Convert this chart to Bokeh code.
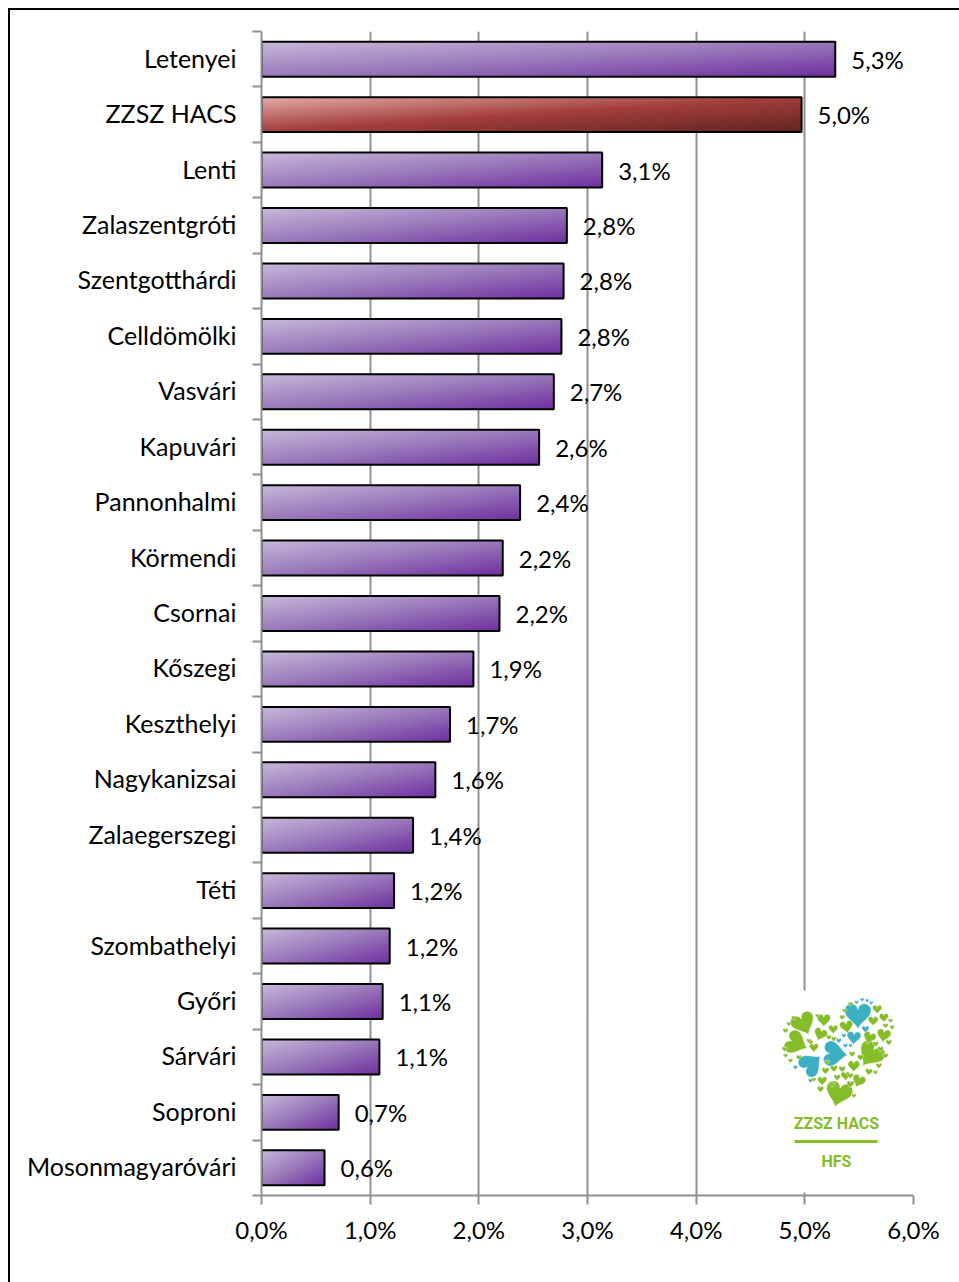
import math
import numpy as np
from bokeh.plotting import figure, ColumnDataSource
from bokeh.models import Range1d, FixedTicker
from bokeh.core.properties import value
from bokeh.embed import file_html
from bokeh.resources import INLINE

categories = ["Letenyei", "ZZSZ HACS", "Lenti", "Zalaszentgróti", "Szentgotthárdi", "Celldömölki",
              "Vasvári", "Kapuvári", "Pannonhalmi", "Körmendi", "Csornai", "Kőszegi", "Keszthelyi",
              "Nagykanizsai", "Zalaegerszegi", "Téti", "Szombathelyi", "Győri", "Sárvári", "Soproni",
              "Mosonmagyaróvári"]
values = [5.28, 4.97, 3.135, 2.81, 2.78, 2.76, 2.69, 2.555, 2.38, 2.22, 2.19, 1.95, 1.735, 1.60, 1.395,
          1.22, 1.18, 1.115, 1.085, 0.71, 0.58]
labels = ["5,3%", "5,0%", "3,1%", "2,8%", "2,8%", "2,8%", "2,7%", "2,6%", "2,4%", "2,2%", "2,2%", "1,9%",
          "1,7%", "1,6%", "1,4%", "1,2%", "1,2%", "1,1%", "1,1%", "0,7%", "0,6%"]
x_tick_values = [0, 1, 2, 3, 4, 5, 6]
x_tick_labels = ["0,0%", "1,0%", "2,0%", "3,0%", "4,0%", "5,0%", "6,0%"]

FONT = "Lato"
GRAY = "#909090"
GREEN = "#84bd27"
BLUE = "#3bb0c3"
PURPLE = [(0xC8, 0xBB, 0xDA), (0x9B, 0x7B, 0xBC), (0x70, 0x30, 0xA0)]
RED = [(0xE6, 0xAD, 0xAB), (0xA3, 0x3F, 0x3C), (0x63, 0x25, 0x23)]

W, H = 959, 1282
L, R, T, B = 261, 46, 31, 87
BAR = 0.63
n = len(categories)
ys = [n - i - 0.5 for i in range(n)]
label_ys = [y + 0.027 for y in ys]

p = figure(width=W, height=H, output_backend="svg", toolbar_location=None,
           x_range=Range1d(0, 6), y_range=Range1d(0, n),
           min_border_left=L, min_border_right=R, min_border_top=T, min_border_bottom=B,
           background_fill_color="white", border_fill_alpha=0)
p.outline_line_color = None
p.styles = {"background": "linear-gradient(#000,#000) 8px 8px / 951px 2px no-repeat, "
                          "linear-gradient(#000,#000) 8px 8px / 2px 1274px no-repeat, #fff"}

ax = p.xaxis[0]
ax.ticker = FixedTicker(ticks=x_tick_values)
ax.major_label_overrides = dict(zip(x_tick_values, x_tick_labels))
ax.major_label_text_font = FONT
ax.major_label_text_font_size = "24px"
ax.major_label_text_color = "#000000"
ax.major_tick_out = 9
ax.major_tick_in = 0
ax.minor_tick_line_color = None
ax.axis_line_color = GRAY
ax.axis_line_width = 2
ax.major_tick_line_color = GRAY
ax.major_tick_line_width = 2
ax.major_label_standoff = 10

ay = p.yaxis[0]
ay.ticker = FixedTicker(ticks=label_ys, minor_ticks=list(range(n + 1)))
ay.major_label_overrides = dict(zip(label_ys, categories))
ay.major_label_text_font = FONT
ay.major_label_text_font_size = "25px"
ay.major_label_text_color = "#000000"
ay.major_tick_out = 0
ay.major_tick_in = 0
ay.major_tick_line_color = None
ay.minor_tick_out = 9
ay.minor_tick_in = 0
ay.minor_tick_line_color = GRAY
ay.minor_tick_line_width = 2
ay.axis_line_color = GRAY
ay.axis_line_width = 2
ay.major_label_standoff = 16

p.ygrid.grid_line_color = None
p.xgrid.ticker = FixedTicker(ticks=x_tick_values)
p.xgrid.grid_line_color = GRAY
p.xgrid.grid_line_width = 2

PX_X = (W - L - R) / 6
PX_Y = (H - T - B) / n
def dx(px):
    return (px - L) / PX_X
def dy(py):
    return (H - B - py) / PX_Y

p.quad(left=[dx(770)], right=[dx(905)], top=[dy(990)], bottom=[dy(1192)],
       fill_color="white", line_color=None)

def lerp(stops, t):
    a, b, s = (stops[0], stops[1], t * 2) if t < 0.5 else (stops[1], stops[2], t * 2 - 1)
    return [a[k] + (b[k] - a[k]) * s for k in range(3)]

images = []
for v, c in zip(values, categories):
    stops = RED if c == "ZZSZ HACS" else PURPLE
    w = max(2, int(round(v * PX_X)))
    h = max(2, int(round(BAR * PX_Y)))
    img = np.zeros((h, w), dtype=np.uint32)
    view = img.view(dtype=np.uint8).reshape((h, w, 4))
    for r in range(h):
        vv = 1 - r / (h - 1)
        for col in range(w):
            uu = col / (w - 1)
            rgb = lerp(stops, (uu + vv) / 2)
            view[r, col] = [int(rgb[0]), int(rgb[1]), int(rgb[2]), 255]
    images.append(img)

src = ColumnDataSource(dict(y=ys, v=values, lab=labels, img=images,
                            x0=[0] * n, yb=[y - BAR / 2 for y in ys], dh=[BAR] * n))
p.image_rgba(image="img", x="x0", y="yb", dw="v", dh="dh", source=src)
p.hbar(y="y", left=0, right="v", height=BAR, source=src, fill_alpha=0,
       line_color="#000000", line_width=2)
p.text(x="v", y="y", text="lab", source=src, x_offset=16, y_offset=0,
       text_font=value(FONT), text_font_size=value("24px"), text_color="#000000",
       text_baseline="middle", text_align="left")

big = [(98, 112, 36, -25, GREEN), (75, 172, 36, -65, GREEN), (262, 86, 40, 0, BLUE),
       (190, 205, 38, -85, BLUE), (120, 237, 36, -130, BLUE), (302, 205, 40, 35, GREEN),
       (205, 322, 40, 15, GREEN)]
small = [(160, 102, 20, 0, GREEN), (150, 145, 20, 20, GREEN), (188, 130, 14, 0, GREEN),
         (228, 122, 20, -10, GREEN), (320, 70, 14, 0, GREEN), (340, 95, 14, 0, GREEN),
         (308, 105, 15, 0, GREEN), (340, 148, 21, 10, GREEN), (297, 155, 19, 20, GREEN),
         (250, 155, 21, 5, BLUE), (285, 130, 11, 0, BLUE), (130, 185, 14, 0, GREEN),
         (250, 240, 18, 0, GREEN), (265, 285, 20, 20, GREEN), (155, 285, 14, 0, GREEN),
         (225, 270, 14, 0, GREEN), (190, 248, 11, 0, GREEN), (215, 250, 10, 0, GREEN),
         (165, 255, 11, 0, GREEN), (295, 258, 11, 10, GREEN), (325, 240, 9, 0, GREEN),
         (150, 310, 10, 0, GREEN), (240, 295, 11, 0, GREEN), (200, 275, 10, 0, GREEN),
         (45, 135, 8, 0, GREEN), (55, 115, 7, 0, GREEN), (70, 97, 7, 0, GREEN), (42, 190, 8, 0, GREEN),
         (45, 210, 7, 0, GREEN), (60, 225, 7, 0, GREEN), (85, 215, 8, 0, GREEN), (75, 245, 7, 0, BLUE),
         (120, 285, 7, 0, BLUE), (130, 282, 7, 0, GREEN), (120, 170, 8, 0, GREEN), (140, 90, 6, 0, GREEN),
         (205, 165, 8, 0, BLUE), (190, 160, 8, 0, GREEN), (225, 180, 7, 0, BLUE), (240, 180, 6, 0, BLUE),
         (220, 150, 7, 0, BLUE), (215, 95, 8, 0, GREEN), (222, 75, 7, 0, GREEN), (240, 55, 7, 0, GREEN),
         (258, 50, 6, 0, BLUE), (275, 42, 6, 0, BLUE), (290, 45, 6, 0, BLUE), (302, 52, 6, 0, BLUE),
         (345, 120, 8, 0, GREEN), (360, 105, 7, 0, GREEN), (365, 125, 7, 0, GREEN), (355, 170, 9, 0, GREEN),
         (330, 190, 9, 0, GREEN), (345, 210, 8, 0, GREEN), (315, 175, 9, 0, GREEN), (270, 215, 10, 0, GREEN),
         (245, 205, 9, 0, GREEN), (175, 155, 8, 0, GREEN), (115, 165, 7, 0, GREEN), (185, 295, 9, 0, GREEN),
         (170, 230, 8, 0, GREEN), (240, 270, 9, 0, GREEN), (315, 260, 7, 0, GREEN), (250, 330, 7, 0, GREEN)]

ts = np.linspace(0, 2 * np.pi, 40)
hx = np.sin(ts) ** 3
hy = (13 * np.cos(ts) - 5 * np.cos(2 * ts) - 2 * np.cos(3 * ts) - np.cos(4 * ts)) / -15
xs_h, ys_h, cols = [], [], []
for zx, zy, r, ang, col in big + small:
    a = math.radians(ang)
    px = 770 + zx / 3 + (hx * math.cos(a) - hy * math.sin(a)) * r / 3
    py = 985 + zy / 3 + (hx * math.sin(a) + hy * math.cos(a)) * r / 3
    xs_h.append(dx(px).tolist())
    ys_h.append(dy(py).tolist())
    cols.append(col)
p.patches(xs=xs_h, ys=ys_h, fill_color=cols, line_color="white", line_width=0.5)

p.text(x=[dx(836)], y=[dy(1123)], text=["ZZSZ HACS"], text_font=value("Roboto"),
       text_font_size=value("16px"), text_font_style=value("bold"), text_color=GREEN,
       text_align="center", text_baseline="middle")
p.segment(x0=[dx(794)], x1=[dx(877)], y0=[dy(1141)], y1=[dy(1141)], line_color=GREEN, line_width=3)
p.text(x=[dx(836)], y=[dy(1161)], text=["HFS"], text_font=value("Roboto"),
       text_font_size=value("16px"), text_font_style=value("bold"), text_color=GREEN,
       text_align="center", text_baseline="middle")

open("out.html", "w").write(file_html(p, INLINE))
